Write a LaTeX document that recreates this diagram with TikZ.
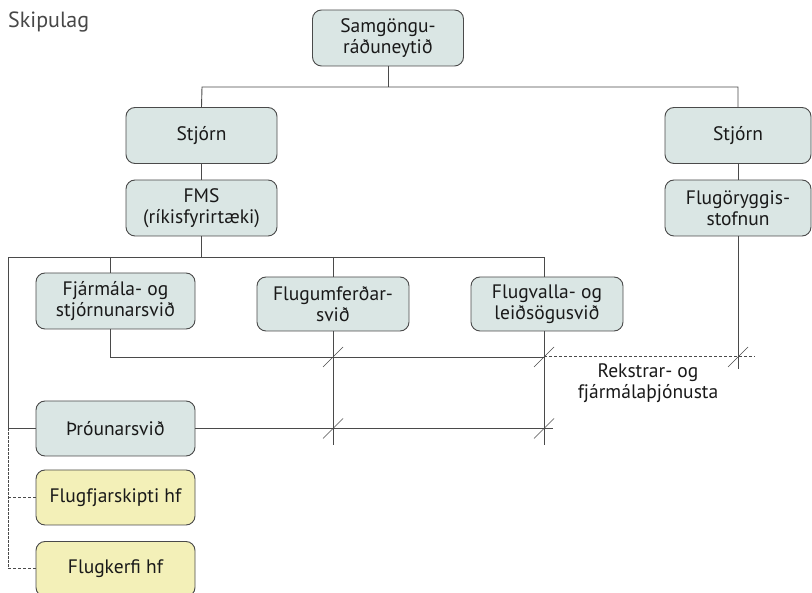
\documentclass[tikz,border=0pt]{standalone}
\usepackage{fontspec}
\setmainfont{PT Sans}
\definecolor{boxblue}{HTML}{DAE6E4}
\definecolor{boxyellow}{HTML}{F3F0B8}
\definecolor{linegray}{HTML}{4A4A4A}
\tikzset{
  orgbox/.style={draw=linegray, line width=0.9pt, rounded corners=9pt, fill=boxblue,
    minimum width=151pt, minimum height=56pt, align=center, inner sep=2pt,
    font=\fontsize{19.5}{20.5}\selectfont, text=black!90},
  subbox/.style={orgbox, fill=boxyellow},
  conn/.style={draw=linegray, line width=0.9pt},
  dconn/.style={draw=linegray, line width=1pt, dash pattern=on 3pt off 2pt},
  fconn/.style={draw=linegray, line width=0.6pt, dash pattern=on 2.5pt off 1.5pt},
  tick/.style={draw=linegray, line width=0.7pt}
}
\begin{document}
\begin{tikzpicture}[x=1pt,y=-1pt]
\useasboundingbox (0,0) rectangle (812,593);
\begin{scope}
\clip (0,0) rectangle (812,593);
\node[anchor=base west, inner sep=0pt, font=\fontsize{22}{24}\selectfont, text=black!72] (title) at (8,28) {Skipulag};

\node[orgbox] (top) at (388,38) {Samgöngu-\\ráðuneytið};
\node[orgbox] (stj1) at (201.5,135.5) {Stjórn};
\node[orgbox] (fms) at (201.5,208) {FMS\\(ríkisfyrirtæki)};
\node[orgbox, minimum width=146pt] (stj2) at (738,135.5) {Stjórn};
\node[orgbox, minimum width=146pt] (flo) at (738,208) {Flugöryggis-\\stofnun};

\node[orgbox, minimum width=159pt] (fja) at (115.5,301) {Fjármála- og\\stjórnunarsvið};
\node[orgbox, minimum width=152pt, minimum height=54pt] (fu) at (333,304) {Flugumferðar-\\svið};
\node[orgbox, minimum width=152pt, minimum height=54pt] (fv) at (547,304) {Flugvalla- og\\leiðsögusvið};
\node[orgbox, minimum width=159pt, minimum height=55pt] (thr) at (115.5,428.5) {Þróunarsvið};
\node[subbox, minimum width=159pt, minimum height=55pt] (ff) at (115.5,497.5) {Flugfjarskipti hf};
\node[subbox, minimum width=159pt, minimum height=55pt] (fk) at (115.5,569) {Flugkerfi hf};

\node[align=center, font=\fontsize{19.5}{20.5}\selectfont, text=black!90] (rek) at (648,383) {Rekstrar- og\\fjármálaþjónusta};

% coordinates
\coordinate (b1) at (202,87);
\coordinate (b2) at (738,87);
\coordinate (busL) at (8,257);
\coordinate (busR) at (544,257);
\coordinate (c110) at (110,257);
\coordinate (c333) at (333,257);
\coordinate (l1L) at (110,357);
\coordinate (l1R) at (544,357);
\coordinate (l1E) at (755,357);
\coordinate (thrL) at (8,428.5);
\coordinate (thrE) at (553,428.5);
\coordinate (fuE) at (333,445);
\coordinate (fvE) at (544,445);
\coordinate (floE) at (738,369);
\coordinate (dE) at (8,569);
\coordinate (dF) at (8,497.5);

\draw[conn] (top.south) -- (top.south |- b1);
\draw[conn] (stj1.north) -- (b1) -- (b2) -- (stj2.north);
\draw[conn] (stj1.south) -- (fms.north);
\draw[conn] (stj2.south) -- (flo.north);
\draw[conn] (fms.south) -- (fms.south |- busL);
\draw[conn] (thrL) -- (busL) -- (busR) -- (busR |- fv.north);
\draw[conn] (c110) -- (c110 |- fja.north);
\draw[conn] (c333) -- (fu.north);
\draw[conn] (thrL) -- (thr.west);
\draw[conn] (l1L |- fja.south) -- (l1L) -- (l1R);
\draw[dconn] (l1R) -- (l1E);
\draw[conn] (fu.south) -- (fuE);
\draw[conn] (l1R |- fv.south) -- (fvE);
\draw[conn] (flo.south) -- (floE);
\draw[conn] (thr.east) -- (thrE);
\draw[fconn] (thrL) -- (dE);
\draw[dconn] (dF) -- (ff.west);
\draw[dconn] (dE) -- (fk.west);

\foreach \p in {(333,357),(544,357),(738,357),(333,428.5),(544,428.5)}{
  \draw[tick] \p ++(-10,10) -- ++(20,-20);
}
\end{scope}
\end{tikzpicture}
\end{document}
